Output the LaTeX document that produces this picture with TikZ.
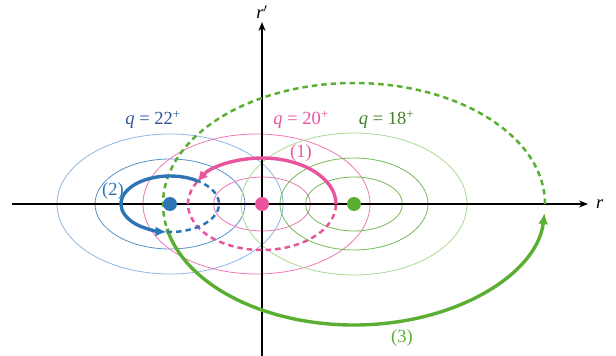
\documentclass[tikz,border=0pt]{standalone}
\usepackage{fontspec}
\setmainfont{Liberation Serif}
\usetikzlibrary{arrows.meta}
\definecolor{cblue}{HTML}{2E75B6}
\definecolor{cbluelt}{HTML}{8DB6E2}
\definecolor{cbluedk}{HTML}{2F5597}
\definecolor{cpink}{HTML}{E8559E}
\definecolor{cpinklt}{HTML}{EE77B4}
\definecolor{cgreen}{HTML}{5AAE32}
\definecolor{cgreenmd}{HTML}{72BB52}
\definecolor{cgreenlt}{HTML}{A8D892}
\definecolor{cgreendk}{HTML}{3E7F2A}
\newcommand{\qlab}[1]{\textit{q}\ =\ #1\textsuperscript{+}}
\tikzset{
  thin ell/.style={line width=0.8pt},
  thick path/.style={line width=3.4pt},
  dash path/.style={line width=2.5pt, dash pattern=on 5.5pt off 4pt},
  axis/.style={line width=1.5pt, -{Stealth[length=9pt,width=7pt]}},
  dot/.style={circle, inner sep=0pt, minimum size=14pt},
  tip/.style={-{Latex[length=11pt,width=10pt]}},
  lab/.style={font=\fontsize{18.5}{22}\selectfont, inner sep=0pt}
}
\begin{document}
\begin{tikzpicture}[x=1pt,y=1pt]
\useasboundingbox (-262,-152) rectangle (354,204);
% centres
\coordinate (O) at (0,0);
\coordinate (BC) at (-92,0);
\coordinate (GC) at (92,0);
\coordinate (PO) at (-5.5,0);
% thin ellipses
\draw[thin ell, cbluelt] (BC) ellipse [x radius=113pt, y radius=70pt];
\draw[thin ell, cblue!80] (BC) ellipse [x radius=75pt, y radius=45pt];
\draw[thin ell, cpinklt] (PO) ellipse [x radius=113.5pt, y radius=70pt];
\draw[thin ell, cpinklt] (O) ellipse [x radius=48.5pt, y radius=27pt];
\draw[thin ell, cgreenlt] (GC) ellipse [x radius=113pt, y radius=71pt];
\draw[thin ell, cgreenmd] (GC) ellipse [x radius=74pt, y radius=46pt];
\draw[thin ell, cgreenmd] (GC) ellipse [x radius=48.5pt, y radius=27pt];
% axes
\coordinate (xl) at (-250,0);
\coordinate (yb) at (0,-152);
\node[inner sep=0pt] (xt) at (326,0) {};
\node[inner sep=0pt] (yt) at (0,182) {};
\draw[axis] (xl) -- (xt.center);
\draw[axis] (yb) -- (yt.center);
\node[lab, anchor=west, xshift=8pt] (rl) at (xt) {\textit{r}};
\node[lab, anchor=south, yshift=3pt] (rpl) at (yt) {\textit{r}$'$};
% path (3) green
\draw[thick path, cgreen, tip] ([shift={(191.8:191pt and 121pt)}]GC) arc[start angle=191.8, end angle=355.7, x radius=191pt, y radius=121pt];
\draw[dash path, cgreen] ([shift={(0:191pt and 121pt)}]GC) arc[start angle=0, end angle=191.8, x radius=191pt, y radius=121pt];
% path (1) pink
\draw[dash path, cpink] ([shift={(151.4:74pt and 46pt)}]O) arc[start angle=151.4, end angle=360, x radius=74pt, y radius=46pt];
\draw[thick path, cpink, tip] ([shift={(0:74pt and 46pt)}]O) arc[start angle=0, end angle=151.4, x radius=74pt, y radius=46pt];
% path (2) blue
\draw[dash path, cblue] ([shift={(266:49pt and 28pt)}]BC) arc[start angle=266, end angle=416.6, x radius=49pt, y radius=28pt];
\draw[thick path, cblue, tip] ([shift={(56.6:49pt and 28pt)}]BC) arc[start angle=56.6, end angle=266, x radius=49pt, y radius=28pt];
% dots
\node[dot, fill=cblue] (B) at (BC) {};
\node[dot, fill=cpink] (P) at (O) {};
\node[dot, fill=cgreen] (G) at (GC) {};
% labels
\node[lab, text=cbluedk] (q22) at (-109,84) {\qlab{22}};
\node[lab, text=cpink] (q20) at (39,84) {\qlab{20}};
\node[lab, text=cgreendk] (q18) at (124.5,84) {\qlab{18}};
\node[lab, text=cpink] (l1) at (39,51) {(1)};
\node[lab, text=cblue] (l2) at (-149,13) {(2)};
\node[lab, text=cgreen] (l3) at (140,-134) {(3)};
\end{tikzpicture}
\end{document}
